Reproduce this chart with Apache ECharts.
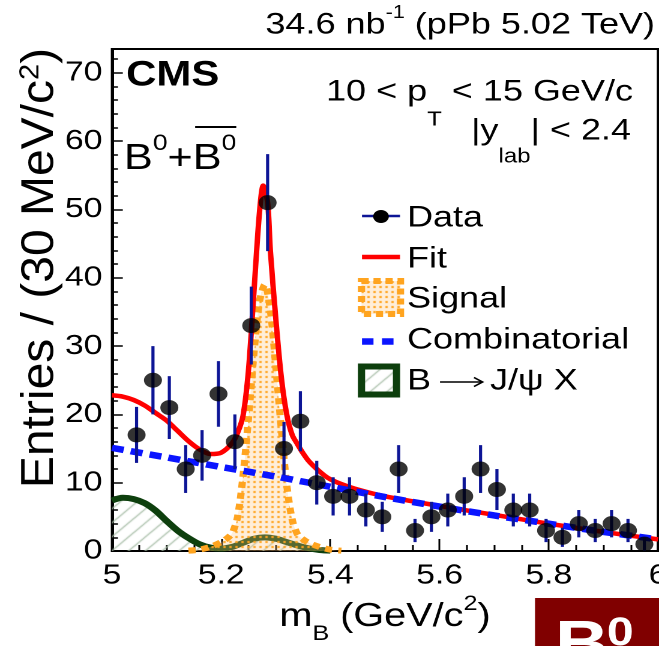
<!DOCTYPE html>
<html><head><meta charset="utf-8">
<script src="https://cdn.jsdelivr.net/npm/echarts@6/dist/echarts.min.js"></script>
<style>
html,body{margin:0;padding:0;background:#fff;overflow:hidden;}
#wrap{width:659px;height:646px;overflow:hidden;position:relative;background:#fff;}
#chart{width:549px;height:646px;transform:scaleX(1.20036);transform-origin:0 0;}
</style></head><body><div id="wrap"><div id="chart"></div></div>
<script>
// ---------------- data ----------------
const binCenters = [5.045,5.075,5.105,5.135,5.165,5.195,5.225,5.255,5.285,5.315,5.345,5.375,5.405,5.435,5.465,5.495,5.525,5.555,5.585,5.615,5.645,5.675,5.705,5.735,5.765,5.795,5.825,5.855,5.885,5.915,5.945,5.975];
const dataCounts = [17,25,21,12,14,23,16,33,51,15,19,10,8,8,6,5,12,3,5,6,8,12,9,6,6,3,2,4,3,4,3,1];
const dataErrors = [4.1,5.0,4.6,3.5,3.7,4.8,4.0,5.7,7.1,3.9,4.4,3.2,2.8,2.8,2.4,2.2,3.5,1.7,2.2,2.4,2.8,3.5,3.0,2.4,2.4,1.7,1.4,2.0,1.7,2.0,1.7,1.0];

const fitX = [5.00,5.02,5.04,5.06,5.08,5.10,5.12,5.14,5.16,5.18,5.20,5.22,5.23,5.24,5.25,5.26,5.27,5.277,5.285,5.29,5.30,5.31,5.32,5.33,5.34,5.35,5.36,5.375,5.39,5.40,5.42,5.45,5.50,5.60,5.70,5.80,5.90,6.00];
const fitY = [22.8,22.6,22.1,21.3,20.2,19.1,17.6,16.1,14.9,14.2,14.4,15.8,17.3,19.8,26.5,38.0,49.5,53.5,51.0,44.0,34.0,25.5,20.0,17.0,15.6,14.3,13.2,12.0,11.0,10.5,9.8,9.0,8.0,6.6,5.3,4.0,2.8,1.7];

const sigX = [5.14,5.16,5.18,5.20,5.21,5.22,5.23,5.24,5.25,5.26,5.27,5.28,5.29,5.30,5.31,5.32,5.33,5.34,5.35,5.36,5.38,5.40,5.42];
const sigY = [0.05,0.2,0.6,1.3,1.8,2.6,5.0,11.0,19.5,29.0,36.5,39.0,35.3,27.0,18.0,9.7,4.6,2.4,1.7,1.2,0.6,0.2,0.05];

const combX = [5.0,5.1,5.2,5.3,5.4,5.5,5.6,5.7,5.8,5.9,6.0];
const combY = [15.1,13.7,12.3,10.9,9.4,7.9,6.5,5.2,4.0,2.8,1.7];

const bkgX = [5.00,5.02,5.04,5.06,5.08,5.10,5.12,5.14,5.16,5.18,5.20,5.22,5.24,5.26,5.28,5.30,5.32,5.34,5.36,5.38,5.40];
const bkgY = [7.4,7.8,7.6,7.0,5.9,4.4,3.0,1.9,1.0,0.5,0.35,0.6,1.2,1.8,2.0,1.8,1.3,0.8,0.4,0.15,0.05];

const xTickLabels = ['5','5.2','5.4','5.6','5.8','6'];
const yTickLabels = ['0','10','20','30','40','50','60','70'];
const legendNames = ['Data','Fit','Signal','Combinatorial'];

// ---------------- helpers ----------------
const S = 659/549;               // horizontal stretch of the reference
const rx = x => x / S;           // reference x -> chart x
const FONT = '"Liberation Sans", Arial, Helvetica, sans-serif';
const mctx = document.createElement('canvas').getContext('2d');
function textW(t, size, bold){ mctx.font = (bold?'bold ':'') + size + 'px ' + FONT; return mctx.measureText(t).width; }
// lays out text pieces (normal / sub / superscript) side by side; y is the vertical centre of each piece
function textRun(segs, x, anchor, out){
  const widths = segs.map(s => textW(s.t, s.size, s.bold));
  const total = widths.reduce((a,b)=>a+b,0);
  let cx = anchor === 'right' ? x - total : anchor === 'center' ? x - total/2 : x;
  const pos = [];
  segs.forEach((s,i) => {
    const lead = s.t.length - s.t.replace(/^\s+/, '').length;
    const off = lead ? textW(s.t.slice(0, lead), s.size, s.bold) : 0;
    const txt = s.t.trim();
    if (txt) out.push({type:'text', x:cx + off, y:s.y, z:100, silent:true,
      style:{text:txt, fill:s.color||'#000', font:(s.bold?'bold ':'') + s.size + 'px ' + FONT, align:'left', verticalAlign:'middle'}});
    pos.push([cx + off, cx + widths[i]]);
    cx += widths[i];
  });
  return pos;
}
function dotPattern(){
  const c = document.createElement('canvas'); c.width = 5; c.height = 5;
  const g = c.getContext('2d');
  g.fillStyle = 'rgba(255,200,130,0.30)'; g.fillRect(0,0,5,5);
  g.fillStyle = '#ffa41f'; g.fillRect(1,1,2,2);
  return c;
}
function hatchPattern(){
  const c = document.createElement('canvas'); c.width = 14; c.height = 14;
  const g = c.getContext('2d');
  g.strokeStyle = '#a9bfa9'; g.lineWidth = 1.2;
  g.beginPath();
  g.moveTo(-2,16); g.lineTo(16,-2);
  g.moveTo(-9,9); g.lineTo(9,-9);
  g.moveTo(5,23); g.lineTo(23,5);
  g.stroke();
  return c;
}
const pairs = (xs, ys) => xs.map((x,i)=>[x, ys[i]]);

const C_ERR = '#0d1596', C_FIT = '#ff0000', C_COMB = '#0a14ff', C_SIG = '#ffa41f', C_BKG = '#0d3f0d';
const dots = dotPattern(), hatch = hatchPattern();
const M = (size, lh) => ({fontSize:size, fontFamily:FONT, color:'#000', verticalAlign:'top', lineHeight:lh});

// ---------------- graphics (texts & legend) ----------------
const g = [];
// top label
textRun([{t:'34.6 nb', size:30, y:25},{t:'-1', size:18, y:13},{t:' (pPb 5.02 TeV)', size:30, y:25}], rx(655), 'right', g);
// CMS
textRun([{t:'CMS', size:35, y:76, bold:true}], rx(126), 'left', g);
// kinematic cuts
textRun([{t:'10 < p', size:30, y:92},{t:'T', size:20, y:120},{t:' < 15 GeV/c', size:30, y:92}], rx(633), 'right', g);
textRun([{t:'|y', size:30, y:131},{t:'lab', size:20, y:157},{t:'| < 2.4', size:30, y:131}], rx(631), 'right', g);
// B0 + B0bar
const bp = textRun([{t:'B', size:36, y:159},{t:'0', size:22, y:144},{t:'+', size:36, y:159},{t:'B', size:36, y:159},{t:'0', size:22, y:144}], rx(124), 'left', g);
g.push({type:'line', z:100, silent:true, shape:{x1:bp[3][0]+2, y1:127, x2:bp[4][1], y2:127}, style:{stroke:'#000', lineWidth:2}});
// x-axis title
textRun([{t:'m', size:33, y:617},{t:'B', size:21, y:634},{t:' (GeV/c', size:33, y:617},{t:'2', size:21, y:604},{t:')', size:33, y:617}], rx(385), 'center', g);
// y-axis title (rotated; glyph height compressed like the reference)
g.push({type:'text', x:rx(40), y:268, z:100, silent:true, rotation:Math.PI/2, scaleY:0.79,
  style:{text:'{m|Entries / (30 MeV/c}{p|2}{m|)}', fill:'#000', fontFamily:FONT, align:'center', verticalAlign:'middle',
    rich:{m:M(48,48), p:M(29,13)}}});

// legend symbols
const LX1 = rx(362), LX2 = rx(400);
g.push({type:'line', z:100, shape:{x1:LX1, y1:216, x2:LX2, y2:216}, style:{stroke:C_ERR, lineWidth:2.5}});
g.push({type:'circle', z:101, shape:{cx:rx(381), cy:216.5, r:6.5}, style:{fill:'#000'}});
g.push({type:'line', z:100, shape:{x1:LX1, y1:257, x2:LX2, y2:257}, style:{stroke:C_FIT, lineWidth:4.5}});
g.push({type:'rect', z:100, shape:{x:rx(361.5), y:281, width:rx(400.5)-rx(361.5), height:33}, style:{fill:{image:dots, repeat:'repeat'}, stroke:C_SIG, lineWidth:6, lineDash:[6,4]}});
g.push({type:'line', z:100, shape:{x1:rx(362), y1:341.5, x2:rx(393.5), y2:341.5}, style:{stroke:C_COMB, lineWidth:6.5, lineDash:[rx(11.5), rx(8.5)]}});
g.push({type:'rect', z:100, shape:{x:rx(361.5), y:366.5, width:rx(396.5)-rx(361.5), height:28}, style:{fill:{image:hatch, repeat:'repeat'}, stroke:C_BKG, lineWidth:6}});
const legY = [218, 259, 299, 340];
legendNames.forEach((n,i) => textRun([{t:n, size:30, y:legY[i]}], rx(407), 'left', g));
// "B -> J/psi X" with a long arrow
textRun([{t:'B', size:30, y:381}], rx(407), 'left', g);
g.push({type:'line', z:100, shape:{x1:rx(440), y1:382, x2:rx(482), y2:382}, style:{stroke:'#000', lineWidth:1.6}});
g.push({type:'polyline', z:100, shape:{points:[[rx(474),377.5],[rx(482.5),382],[rx(474),386.5]]}, style:{stroke:'#000', lineWidth:1.6, fill:null}});
textRun([{t:'J/\u03c8 X', size:30, y:381}], rx(490), 'left', g);

// red B0 box (cropped)
g.push({type:'rect', z:100, silent:true, shape:{x:rx(535), y:598, width:rx(130), height:60}, style:{fill:'#800000'}});
textRun([{t:'B', size:62, y:647, bold:true, color:'#fff'}], rx(555), 'left', g);
textRun([{t:'0', size:40, y:634, bold:true, color:'#fff'}], rx(607), 'left', g);

// ---------------- chart ----------------
const chart = echarts.init(document.getElementById('chart'), null, {devicePixelRatio:2, renderer:'canvas'});
const axisCommon = {
  axisLine:{show:true, onZero:false, lineStyle:{color:'#000', width:2}},
  splitLine:{show:false}
};
chart.setOption({
  animation:false,
  backgroundColor:'#fff',
  grid:{left:93.3, top:49, width:rx(546), bottom:95, show:true, borderColor:'#000', borderWidth:2, backgroundColor:'transparent', containLabel:false, outerBoundsMode:'none'},
  xAxis:Object.assign({}, axisCommon, {
    type:'value', min:5, max:6, interval:0.2,
    axisTick:{show:true, inside:true, length:12, lineStyle:{color:'#000', width:1.5}},
    minorTick:{show:true, splitNumber:4, length:6, lineStyle:{color:'#000', width:1.5}},
    axisLabel:{margin:11, fontSize:28, lineHeight:28, color:'#000', fontFamily:FONT, showMaxLabel:true, showMinLabel:true,
      formatter:v => xTickLabels[Math.round((v-5)/0.2)]}
  }),
  yAxis:Object.assign({}, axisCommon, {
    type:'value', min:0, max:73.5, interval:10,
    axisTick:{show:true, inside:true, length:9, lineStyle:{color:'#000', width:1.5}},
    minorTick:{show:true, splitNumber:5, length:5, lineStyle:{color:'#000', width:1.5}},
    axisLabel:{margin:8, fontSize:28, color:'#000', fontFamily:FONT, showMaxLabel:false,
      formatter:v => yTickLabels[Math.round(v/10)] || ''}
  }),
  series:[
    {name:'B \u2192 J/\u03c8 X', type:'line', data:pairs(bkgX,bkgY), smooth:0.3, symbol:'none', z:2,
      lineStyle:{color:C_BKG, width:6}, areaStyle:{color:{image:hatch, repeat:'repeat'}, opacity:1}},
    {name:'Signal', type:'line', data:pairs(sigX,sigY), smooth:0.3, symbol:'none', z:3,
      lineStyle:{color:C_SIG, width:6, type:[6,5]}, areaStyle:{color:{image:dots, repeat:'repeat'}, opacity:1}},
    {name:'Fit', type:'line', data:pairs(fitX,fitY), smooth:0.3, symbol:'none', z:4,
      lineStyle:{color:C_FIT, width:4.5}},
    {name:'Combinatorial', type:'line', data:pairs(combX,combY), smooth:0.3, symbol:'none', z:5,
      lineStyle:{color:C_COMB, width:6.5, type:[10,6]}},
    {name:'Data errors', type:'custom', z:6, silent:true,
      data:binCenters.map((x,i)=>[x, dataCounts[i]-dataErrors[i], dataCounts[i]+dataErrors[i]]),
      encode:{x:0, y:[1,2]},
      renderItem:(params, api) => {
        const p1 = api.coord([api.value(0), api.value(1)]);
        const p2 = api.coord([api.value(0), api.value(2)]);
        return {type:'line', shape:{x1:p1[0], y1:p1[1], x2:p2[0], y2:p2[1]}, style:{stroke:C_ERR, lineWidth:2.6}};
      }},
    {name:'Data', type:'scatter', data:pairs(binCenters, dataCounts), symbol:'circle', symbolSize:15, z:7,
      itemStyle:{color:'#000'}}
  ],
  graphic:g
});
</script></body></html>
